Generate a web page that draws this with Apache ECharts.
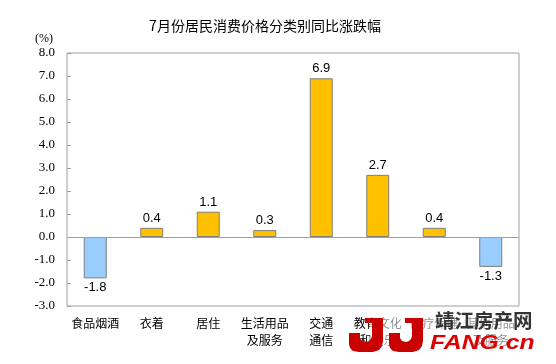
<!DOCTYPE html>
<html><head><meta charset="utf-8">
<script src="https://cdn.jsdelivr.net/npm/echarts@6/dist/echarts.min.js"></script>
<style>html,body{margin:0;padding:0;background:#fff}#c{width:556px;height:364px}</style>
</head><body><div id="c"></div>
<script>
const categories = ['食品烟酒','衣着','居住','生活用品\n及服务','交通\n通信','教育文化\n和娱乐','医疗保健','其他用品\n及服务'];
const values = [-1.8, 0.4, 1.1, 0.3, 6.9, 2.7, 0.4, -1.3];
const yTicks = {min: -3, max: 8, interval: 1};

const serif = "'Liberation Serif', 'DejaVu Serif', serif";
const jPts = [[16,0],[34,0],[34,23],[33,28],[30,32],[24,34],[10,34],[4,33],[1,30],[0,26],[0,15],[11,15],[11,20],[13,23],[17,24],[20,23],[22,21],[23,18],[23,5],[16,5]];
const chart = echarts.init(document.getElementById('c'));
chart.setOption({
  animation: false,
  title: {text: '7月份居民消费价格分类别同比涨跌幅', left: 260, top: 14, textAlign: 'center',
    textStyle: {fontSize: 14, fontWeight: 'normal', color: '#000', fontFamily: 'Noto Sans CJK SC'}},
  grid: {left: 67, right: 37, top: 53, bottom: 58, show: true, borderColor: '#a0a0a0', borderWidth: 1},
  xAxis: {type: 'category', data: categories,
    axisLine: {show: false}, axisTick: {show: false},
    axisLabel: {interval: 0, margin: 9, fontSize: 12, color: '#000', lineHeight: 17, fontFamily: 'Noto Sans CJK SC'}},
  yAxis: {type: 'value', min: yTicks.min, max: yTicks.max, interval: yTicks.interval,
    name: '(%)', nameLocation: 'end', nameGap: 8, nameTextStyle: {fontFamily: serif, fontSize: 12, color: '#000', align: 'right', padding: [0, 14, 0, 0]},
    axisLine: {show: false}, axisTick: {show: true, inside: true, length: 4, lineStyle: {color: '#a0a0a0'}},
    splitLine: {show: false},
    axisLabel: {margin: 12, fontSize: 13, color: '#000', fontFamily: serif, formatter: v => v.toFixed(1)}},
  series: [{type: 'bar', barWidth: 23,
    data: values.map(v => ({value: v, itemStyle: {color: v >= 0 ? '#FFC000' : '#99CCFF'},
      label: {position: v >= 0 ? 'top' : 'bottom'}})),
    itemStyle: {borderColor: '#7f7f7f', borderWidth: 1},
    label: {show: true, fontSize: 13, color: '#000', fontFamily: 'Liberation Sans', distance: 3, formatter: p => p.value.toFixed(1)},
    markLine: {silent: true, symbol: 'none', label: {show: false}, lineStyle: {color: '#a0a0a0', type: 'solid', width: 1}, data: [{yAxis: 0}]}
  }],
  graphic: [
    {type: 'rect', z: 99, shape: {x: 370, y: 310, width: 168, height: 46}, style: {fill: 'rgba(255,255,255,0.55)'}},
    {type: 'polygon', x: 349, y: 318, z: 100, shape: {points: jPts}, style: {fill: '#C80000'}},
    {type: 'polygon', x: 389, y: 318, z: 100, shape: {points: jPts}, style: {fill: '#C80000'}},
    {type: 'text', left: 435, top: 311, z: 100, style: {text: '靖江房产网', fontSize: 19.5, fontWeight: 'bold', fill: '#333', fontFamily: 'Noto Sans CJK SC'}},
    {type: 'text', x: 430, y: 333, scaleX: 1.18, z: 100, style: {text: 'FANG.cn', fontSize: 21, fontWeight: 'bold', fontStyle: 'italic', fill: '#E00000', fontFamily: 'Liberation Sans', textVerticalAlign: 'top'}}
  ]
});
</script></body></html>
